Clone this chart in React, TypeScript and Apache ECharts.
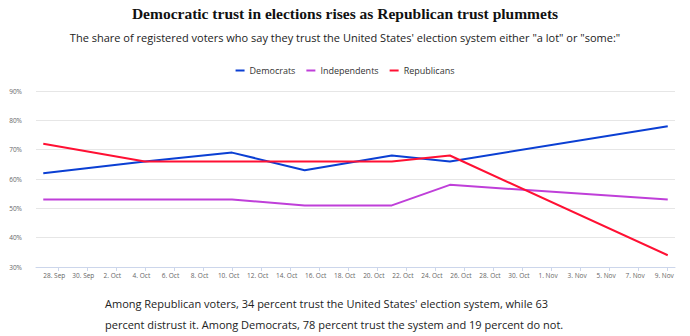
import React, { useEffect, useRef } from "react";
import * as echarts from "echarts";

const dates = ["2020-09-27", "2020-10-04", "2020-10-10", "2020-10-15", "2020-10-21", "2020-10-25", "2020-11-09"];
const democrats = [62, 66, 69, 63, 68, 66, 78];
const independents = [53, 53, 53, 51, 51, 58, 53];
const republicans = [72, 66, 66, 66, 66, 68, 34];

const tickDates = [
  "2020-09-28", "2020-09-30", "2020-10-02", "2020-10-04", "2020-10-06", "2020-10-08",
  "2020-10-10", "2020-10-12", "2020-10-14", "2020-10-16", "2020-10-18", "2020-10-20",
  "2020-10-22", "2020-10-24", "2020-10-26", "2020-10-28", "2020-10-30", "2020-11-01",
  "2020-11-03", "2020-11-05", "2020-11-07", "2020-11-09",
];
const tickLabels = [
  "28. Sep", "30. Sep", "2. Oct", "4. Oct", "6. Oct", "8. Oct", "10. Oct", "12. Oct",
  "14. Oct", "16. Oct", "18. Oct", "20. Oct", "22. Oct", "24. Oct", "26. Oct", "28. Oct",
  "30. Oct", "1. Nov", "3. Nov", "5. Nov", "7. Nov", "9. Nov",
];
const yTicks = [30, 40, 50, 60, 70, 80, 90];

const axisStart = "2020-09-26T12:00:00Z";
const axisEnd = "2020-11-09T12:00:00Z";

const titleText = "Democratic trust in elections rises as Republican trust plummets";
const subtitleText =
  "The share of registered voters who say they trust the United States' election system either \"a lot\" or \"some:\"";
const footerLines = [
  "Among Republican voters, 34 percent trust the United States' election system, while 63",
  "percent distrust it. Among Democrats, 78 percent trust the system and 19 percent do not.",
];

const origin = Date.parse("2020-09-28T00:00:00Z");
const dayOf = (d: string) => (Date.parse(d.length === 10 ? d + "T00:00:00Z" : d) - origin) / 86400000;

export default function App() {
  const ref = useRef<HTMLDivElement>(null);
  useEffect(() => {
    document.body.style.margin = "0";
    if (!ref.current) return;
    const chart = echarts.init(ref.current, null, { renderer: "svg" });
    const tickVals = tickDates.map(dayOf);
    const labelMap: Record<string, string> = {};
    tickVals.forEach((v, i) => (labelMap[String(v)] = tickLabels[i]));
    const mk = (vals: number[]) => dates.map((d, i) => [dayOf(d), vals[i]]);
    const sans = "'Open Sans', sans-serif";
    chart.setOption({
      animation: false,
      backgroundColor: "#ffffff",
      legend: {
        top: 61,
        left: "center",
        icon: "rect",
        itemWidth: 9,
        itemHeight: 2,
        itemGap: 11,
        textStyle: { fontFamily: sans, fontSize: 9, color: "#333333" },
        data: ["Democrats", "Independents", "Republicans"],
      },
      grid: { left: 36, right: 15, top: 91, bottom: 69 },
      xAxis: {
        type: "value",
        min: dayOf(axisStart),
        max: dayOf(axisEnd),
        splitLine: { show: false },
        axisLine: { show: true, lineStyle: { color: "#ccd6eb", width: 1 } },
        axisTick: { show: true, length: 4, customValues: tickVals, lineStyle: { color: "#ccd6eb" } },
        axisLabel: {
          customValues: tickVals,
          formatter: (v: number) => (labelMap[String(v)] ? "{a|" + labelMap[String(v)] + "}" : ""),
          rich: { a: { fontFamily: sans, fontSize: 6.5, color: "#666666", padding: [0, 7, 0, 0] } },
          fontFamily: sans,
          fontSize: 6.5,
          color: "#666666",
          margin: 5,
        },
      },
      yAxis: {
        type: "value",
        min: yTicks[0],
        max: yTicks[yTicks.length - 1],
        interval: 10,
        axisLine: { show: false },
        axisTick: { show: false },
        splitLine: { lineStyle: { color: "#e6e6e6", width: 1 } },
        axisLabel: {
          formatter: "{value}%",
          fontFamily: sans,
          fontSize: 6.5,
          color: "#666666",
          margin: 14,
        },
      },
      series: [
        { name: "Democrats", type: "line", data: mk(democrats), showSymbol: false, color: "#0b3fd3", lineStyle: { width: 2 } },
        { name: "Independents", type: "line", data: mk(independents), showSymbol: false, color: "#bf3fd9", lineStyle: { width: 2 } },
        { name: "Republicans", type: "line", data: mk(republicans), showSymbol: false, color: "#ff1033", lineStyle: { width: 2 } },
      ],
      graphic: [
        {
          type: "text",
          x: 345,
          y: 13,
          style: {
            text: titleText,
            fontFamily: "'Liberation Serif', serif",
            fontWeight: "bold",
            fontSize: 15.5,
            fill: "#111111",
            align: "center",
            verticalAlign: "middle",
          },
        },
        {
          type: "text",
          x: 345,
          y: 37,
          style: {
            text: subtitleText,
            fontFamily: sans,
            fontSize: 11,
            fill: "#222222",
            align: "center",
            verticalAlign: "middle",
          },
        },
        ...footerLines.map((t, i) => ({
          type: "text",
          x: 105,
          y: 303 + i * 21,
          style: {
            text: t,
            fontFamily: sans,
            fontSize: 11,
            fill: "#222222",
            align: "left",
            verticalAlign: "middle",
          },
        })),
      ],
    });
    return () => chart.dispose();
  }, []);
  return <div ref={ref} style={{ width: 690, height: 336 }} />;
}
